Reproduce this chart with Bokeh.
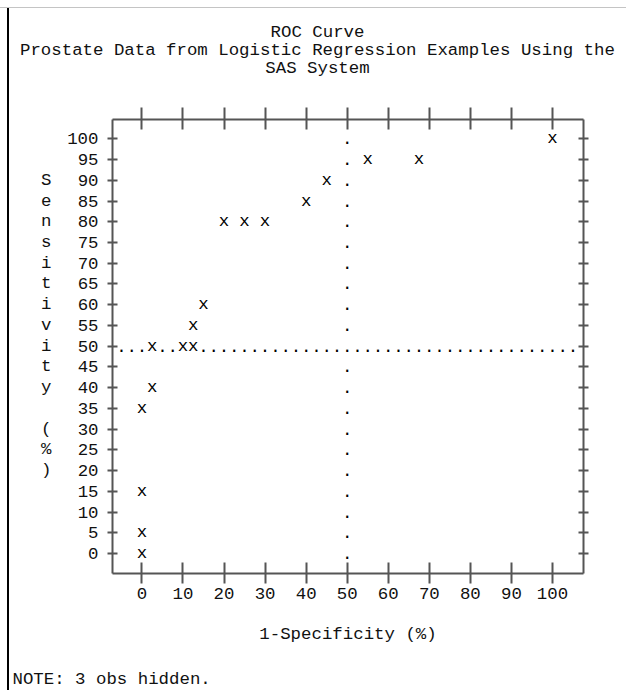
import numpy as np
from bokeh.plotting import figure
from bokeh.models import Range1d, FixedTicker, LinearAxis, Title
from bokeh.core.properties import value
from bokeh.embed import file_html
from bokeh.resources import INLINE

# ---- data ----
title_lines = ["ROC Curve",
               "Prostate Data from Logistic Regression Examples Using the",
               "SAS System"]
x_label = "1-Specificity (%)"
y_label = "Sensitivity (%)"
note_text = "NOTE: 3 obs hidden."

x_ticks = [0, 10, 20, 30, 40, 50, 60, 70, 80, 90, 100]
y_ticks = [0, 5, 10, 15, 20, 25, 30, 35, 40, 45, 50, 55, 60, 65, 70, 75, 80, 85, 90, 95, 100]

one_minus_spec = [0, 0, 0, 0, 2.5, 2.5, 10, 12.5, 12.5, 15, 20, 25, 30, 40, 45, 55, 67.5, 100]
sensitivity = [0, 5, 15, 35, 40, 50, 50, 50, 55, 60, 80, 80, 80, 85, 90, 95, 95, 100]

ref_x = 50
ref_y = 50

# ---- style ----
FONT = "Liberation Mono"
FS = "17.4px"
CW = 17.4 * 0.6
AX = "#555555"
TXT = "#111111"

p = figure(width=626, height=690, output_backend="svg", toolbar_location=None,
           x_range=Range1d(-7.16, 107.55), y_range=Range1d(-4.83, 104.66),
           x_axis_type=None, y_axis_type=None,
           min_border_left=112, min_border_right=43,
           min_border_top=119, min_border_bottom=117)
p.outline_line_color = None
p.border_fill_color = None
p.background_fill_color = None
p.styles = {
    "background": "linear-gradient(#c4c4c4,#c4c4c4) 0px 7px / 100% 1px no-repeat, "
                  "linear-gradient(#000,#000) 7px 8px / 2px 100% no-repeat, #ffffff"
}


def make_axis(ticks, tin, tout, labels=True):
    ax = LinearAxis(ticker=FixedTicker(ticks=ticks, minor_ticks=[]))
    ax.axis_line_color = AX
    ax.axis_line_width = 2
    ax.major_tick_line_color = AX
    ax.major_tick_line_width = 2
    ax.major_tick_in = tin
    ax.major_tick_out = tout
    ax.minor_tick_line_color = None
    ax.major_label_text_font = FONT
    ax.major_label_text_font_size = FS
    ax.major_label_text_color = TXT
    if not labels:
        ax.major_label_overrides = {t: "" for t in ticks}
    return ax


def spacer(size, tick):
    # invisible axis used only to reserve space in a side panel
    ax = LinearAxis(ticker=FixedTicker(ticks=[tick], minor_ticks=[]))
    ax.axis_line_color = None
    ax.major_tick_line_color = None
    ax.minor_tick_line_color = None
    ax.major_tick_in = 0
    ax.major_tick_out = size
    ax.minor_tick_out = 0
    ax.major_label_overrides = {tick: ""}
    return ax


bottom = make_axis(x_ticks, 11, 10)
bottom.major_label_standoff = 4
bottom.axis_label = x_label
bottom.axis_label_text_font = FONT
bottom.axis_label_text_font_size = FS
bottom.axis_label_text_font_style = "normal"
bottom.axis_label_text_color = TXT
bottom.axis_label_standoff = 23
p.add_layout(bottom, "below")
p.add_layout(spacer(21, ref_x), "below")

left = make_axis(y_ticks, 5, 5)
left.major_label_standoff = 9
p.add_layout(left, "left")

# stacked vertical y label, one character per printer row
char_rows = [90 - 5 * i for i, ch in enumerate(y_label) if ch.strip()]
char_text = [ch for ch in y_label if ch.strip()]
ylab = LinearAxis(ticker=FixedTicker(ticks=char_rows, minor_ticks=[]))
ylab.axis_line_color = None
ylab.major_tick_line_color = None
ylab.minor_tick_line_color = None
ylab.major_tick_in = 0
ylab.major_tick_out = 0
ylab.major_label_standoff = 13
ylab.major_label_text_font = FONT
ylab.major_label_text_font_size = FS
ylab.major_label_text_color = TXT
ylab.major_label_overrides = {r: c for r, c in zip(char_rows, char_text)}
p.add_layout(ylab, "left")

top = make_axis(x_ticks, 10, 12, labels=False)
p.add_layout(top, "above")
p.add_layout(spacer(31, ref_x), "above")

right = make_axis(y_ticks, 5, 5, labels=False)
p.add_layout(right, "right")

# titles (added from the plot outward)
for line in reversed(title_lines):
    n = len(line)
    t = Title(text=line, align="left", offset=205 - n * CW / 2, standoff=-3,
              text_font=FONT, text_font_size=FS, text_font_style="normal",
              text_color=TXT)
    p.add_layout(t, "above")

note = Title(text=note_text, align="left", offset=-100, standoff=0,
             text_font=FONT, text_font_size=FS, text_font_style="normal",
             text_color=TXT)
p.add_layout(note, "below")

# reference lines drawn as printer dots
vy = np.arange(0, 100.001, 5)
p.text(x=[ref_x] * len(vy), y=list(vy), text=value("."),
       text_align="center", text_baseline="middle",
       text_font=value(FONT), text_font_size=FS, text_color="black")
hx = [v for v in np.arange(-5, 105.001, 2.5)
      if not any(abs(v - a) < 1e-9 and b == ref_y for a, b in zip(one_minus_spec, sensitivity))
      and abs(v - ref_x) > 1e-9]
p.text(x=hx, y=[ref_y] * len(hx), text=value("."),
       text_align="center", text_baseline="middle",
       text_font=value(FONT), text_font_size=FS, text_color="black")

# data points as printer "x"
p.text(x=one_minus_spec, y=sensitivity, text=value("x"),
       text_align="center", text_baseline="middle",
       text_font=value(FONT), text_font_size=FS, text_color="black")

open("out.html", "w").write(file_html(p, INLINE))
